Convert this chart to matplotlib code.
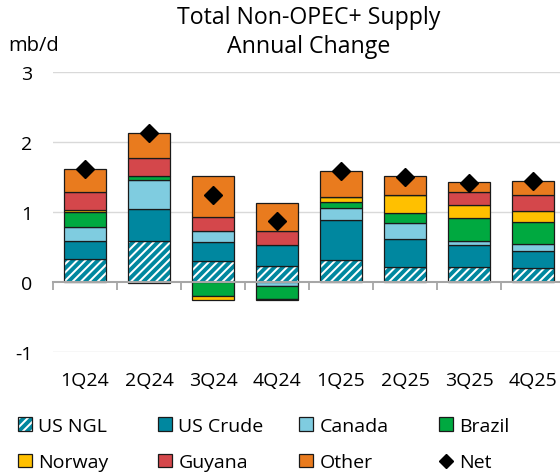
import numpy as np
import matplotlib.pyplot as plt
from matplotlib.patches import Patch
from matplotlib.lines import Line2D
from matplotlib.legend_handler import HandlerTuple

plt.rcParams['font.family'] = ['Open Sans', 'DejaVu Sans']
plt.rcParams['hatch.linewidth'] = 2.8

quarters = ['1Q24', '2Q24', '3Q24', '4Q24', '1Q25', '2Q25', '3Q25', '4Q25']
us_ngl = [0.33, 0.58, 0.30, 0.23, 0.32, 0.22, 0.21, 0.20]
us_crude = [0.26, 0.47, 0.27, 0.30, 0.56, 0.40, 0.32, 0.24]
canada = [0.19, 0.41, 0.16, -0.05, 0.18, 0.22, 0.06, 0.11]
brazil = [0.22, 0.06, -0.20, -0.19, 0.08, 0.15, 0.32, 0.31]
norway = [0.03, -0.02, -0.06, -0.02, 0.07, 0.25, 0.19, 0.16]
guyana = [0.26, 0.25, 0.20, 0.20, 0.0, 0.0, 0.19, 0.23]
other = [0.32, 0.36, 0.59, 0.40, 0.38, 0.27, 0.14, 0.20]
net = [1.61, 2.13, 1.25, 0.87, 1.58, 1.50, 1.42, 1.44]

teal = '#00879F'
series = [('US Crude', us_crude, teal),
          ('Canada', canada, '#7FCCE0'),
          ('Brazil', brazil, '#00A940'),
          ('Norway', norway, '#FFC000'),
          ('Guyana', guyana, '#D4474B'),
          ('Other', other, '#E97B1E')]

fig = plt.figure(figsize=(5.6, 4.77), dpi=100)
ax = fig.add_axes([53/560, 124/477, 512/560, 280/477])

x = np.arange(len(quarters))
w = 0.66
edge = '#1a1a1a'

pos = np.zeros(len(x))
neg = np.zeros(len(x))

# US NGL: hatched
v = np.array(us_ngl)
b = np.where(v >= 0, pos, neg)
ax.bar(x, v, w, bottom=b, color='white', edgecolor=teal, hatch='////', linewidth=0, zorder=2)
ax.bar(x, v, w, bottom=b, fill=False, edgecolor=edge, linewidth=0.9, zorder=3)
pos += np.where(v > 0, v, 0)
neg += np.where(v < 0, v, 0)

for name, vals, col in series:
    v = np.array(vals)
    b = np.where(v >= 0, pos, neg)
    ax.bar(x, v, w, bottom=b, color=col, edgecolor=edge, linewidth=0.9, zorder=3)
    pos += np.where(v > 0, v, 0)
    neg += np.where(v < 0, v, 0)

ax.plot(x, net, 'D', color='black', markersize=9, zorder=5)

ax.set_xlim(-0.5, 7.5)
ax.set_ylim(-1, 3)
ax.set_yticks([-1, 0, 1, 2, 3])
ax.set_yticklabels(['-1', '0', '1', '2', '3'])
ax.set_xticks(x)
ax.set_xticklabels(quarters)
ax.tick_params(axis='both', length=0, labelsize=14)
ax.tick_params(axis='y', pad=15)
ax.tick_params(axis='x', pad=14)
for s in ax.spines.values():
    s.set_visible(False)
for yv in [-1, 1, 2, 3]:
    ax.axhline(yv, color='#D9D9D9', lw=1, zorder=0)

sec = ax.secondary_xaxis(0.25)
sec.set_xticks(np.arange(-0.5, 8.0, 1.0))
sec.set_xticklabels([])
sec.tick_params(direction='out', length=6, width=1.3, color='#A6A6A6')
sec.spines['bottom'].set_color('#A6A6A6')
sec.spines['bottom'].set_linewidth(1.5)
sec.set_zorder(4)

fig.text(309/560, 1 - 18/477, 'Total Non-OPEC+ Supply', ha='center', va='center', fontsize=16.7)
fig.text(309/560, 1 - 47/477, 'Annual Change', ha='center', va='center', fontsize=16.7)
fig.text(8/560, 1 - 46/477, 'mb/d', ha='left', va='center', fontsize=14.5)

ngl_handle = (Patch(facecolor='white', edgecolor=teal, hatch='////', linewidth=0),
              Patch(fill=False, edgecolor=edge, linewidth=0.9))
handles = [ngl_handle] + [Patch(facecolor=c, edgecolor=edge, linewidth=0.9) for _, _, c in series]
handles.append(Line2D([], [], marker='D', color='black', linestyle='none', markersize=7))
labels = ['US NGL'] + [n for n, _, _ in series] + ['Net']

cols = [[0, 4], [1, 5], [2, 6], [3, 7]]
col_x = [18, 158, 299, 439]
for cx, idx in zip(col_x, cols):
    leg = fig.legend([handles[i] for i in idx], [labels[i] for i in idx],
                     loc='upper left', bbox_to_anchor=(cx/560, 1 - 418/477),
                     frameon=False, fontsize=14, handlelength=0.7, handleheight=0.7,
                     handletextpad=0.35, labelspacing=0.95, borderpad=0, borderaxespad=0,
                     handler_map={tuple: HandlerTuple(ndivide=1)})

fig.savefig('out.png', dpi=100)
